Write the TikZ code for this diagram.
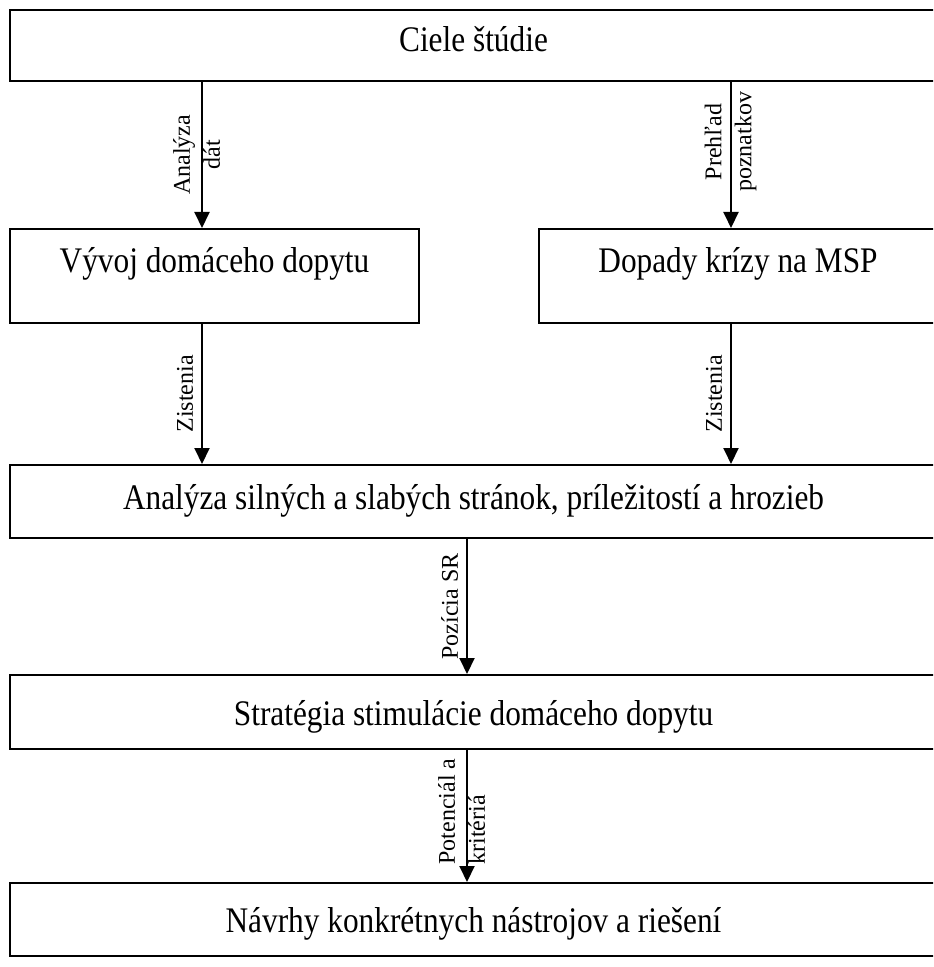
\documentclass[tikz,border=0pt]{standalone}
\usepackage{fontspec}
\setmainfont{Liberation Serif}
\newfontfamily\boxfont{Liberation Serif}[FakeStretch=0.87]
\usetikzlibrary{arrows.meta}
\begin{document}
\begin{tikzpicture}[x=0.5pt,y=-0.5pt,
  box/.style n args={3}{draw, line width=1pt, inner sep=0pt, anchor=north west,
    font=\boxfont\fontsize{18}{21}\selectfont, minimum width=#1, text height=#2, text depth=#3},
  arr/.style={line width=1pt, -{Triangle[width=7.5pt,length=8pt]}},
  lbl/.style={rotate=90, inner sep=0pt, font=\fontsize{12}{13}\selectfont, align=center},
  lbls/.style={rotate=90, inner sep=4pt, font=\fontsize{12}{13}\selectfont, anchor=south}]
\useasboundingbox (0,0) rectangle (933,967);
\clip (0,0) rectangle (933,967);
\node[box={463.5pt}{21pt}{14.5pt}] (cie) at (9,9) {Ciele štúdie};
\node[box={204.5pt}{22pt}{25pt}] (vyv) at (9,228) {Vývoj domáceho dopytu};
\node[box={199pt}{22pt}{25pt}] (dop) at (538,228) {Dopady krízy na MSP};
\node[box={463.5pt}{22pt}{14.5pt}] (swot) at (9,464) {Analýza silných a slabých stránok, príležitostí a hrozieb};
\node[box={463.5pt}{25pt}{12pt}] (str) at (9,674) {Stratégia stimulácie domáceho dopytu};
\node[box={463.5pt}{24.5pt}{12pt}] (nav) at (9,882) {Návrhy konkrétnych nástrojov a riešení};
\draw[arr] (cie.south -| 202,0) -- node[xshift=-2.65pt, lbl, midway] (l1) {Analýza\\[2pt]dát} (vyv.north -| 202,0);
\draw[arr] (cie.south -| 731,0) -- node[xshift=-0.25pt, lbl, pos=0.41] (l2) {Prehľad\\[2pt]poznatkov} (dop.north -| 731,0);
\draw[arr] (vyv.south -| 202,0) -- node[lbls, midway] (l3) {Zistenia} (swot.north -| 202,0);
\draw[arr] (dop.south -| 731,0) -- node[lbls, midway] (l4) {Zistenia} (swot.north -| 731,0);
\draw[arr] (swot.south -| 467,0) -- node[lbls, midway] (l5) {Pozícia SR} (str.north -| 467,0);
\draw[arr] (str.south -| 467,0) -- node[xshift=-2.65pt, lbl, align=left, anchor=west, pos=0.875] (l6) {Potenciál a\\[2pt]kritériá} (nav.north -| 467,0);
\end{tikzpicture}
\end{document}
